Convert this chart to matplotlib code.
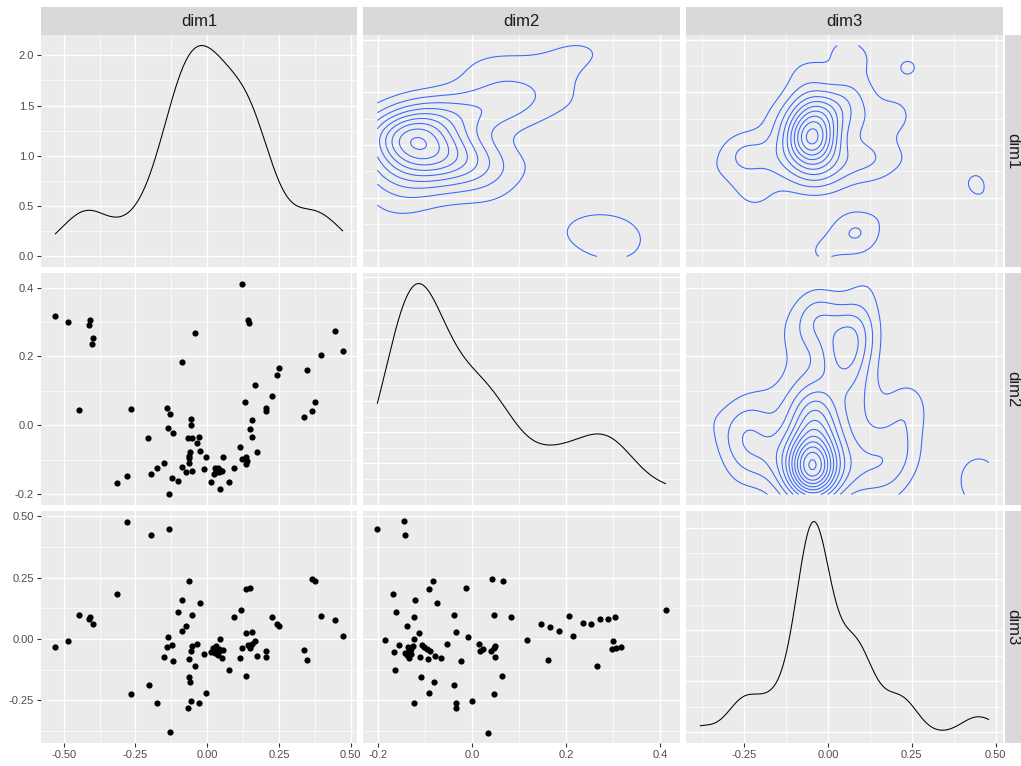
import numpy as np
import matplotlib
matplotlib.use("Agg")
import matplotlib.pyplot as plt
from matplotlib.ticker import FixedLocator, MultipleLocator, AutoLocator, NullFormatter

plt.rcParams["font.family"] = ["Liberation Sans", "DejaVu Sans"]

VARS = ["dim1", "dim2", "dim3"]

# scatter dim1 (x) vs dim2 (y), row 2 col 1
P21_DIM1 = [-0.529, -0.484, -0.447, -0.413, -0.407, -0.399, -0.402, -0.315, -0.087, -0.044,
            0.120, 0.141, 0.147, 0.243, 0.252, 0.227, 0.338, 0.348, 0.365, 0.374, 0.398, 0.447, 0.472,
            0.167, -0.264, -0.139, -0.128, 0.133, 0.204, 0.204, 0.156, 0.150, 0.156, 0.172, 0.113,
            0.134, 0.120, 0.140, 0.137, 0.094, 0.076, 0.046, 0.054, 0.013,
            0.027, 0.036, 0.044, 0.030, 0.024, 0.038, 0.051, 0.033, 0.040, 0.031,
            -0.005, -0.010, -0.024, -0.036, -0.028, -0.052, -0.067, -0.058, -0.056,
            -0.060, -0.065, -0.063, -0.064, -0.052, -0.075, -0.087, -0.101, -0.123, -0.134,
            -0.138, -0.120, -0.152, -0.174, -0.197, -0.205, -0.278]
P21_DIM2 = [0.317, 0.300, 0.045, 0.291, 0.305, 0.254, 0.236, -0.168, 0.185, 0.267,
            0.412, 0.305, 0.298, 0.146, 0.166, 0.085, 0.024, 0.161, 0.043, 0.069, 0.205, 0.274, 0.215,
            0.117, 0.047, 0.049, 0.033, 0.067, 0.049, 0.042, 0.015, -0.012, -0.033, -0.078, -0.064,
            -0.092, -0.099, -0.104, -0.113, -0.125, -0.164, -0.186, -0.092, -0.166,
            -0.125, -0.123, -0.130, -0.137, -0.143, -0.134, -0.132, -0.128, -0.136, -0.131,
            -0.092, -0.127, -0.075, -0.051, -0.033, -0.038, -0.036, 0.017, 0.000,
            -0.079, -0.088, -0.094, -0.109, -0.132, -0.137, -0.120, -0.161, -0.153, -0.201,
            -0.007, -0.023, -0.110, -0.125, -0.142, -0.038, -0.146]

# scatter dim1 (x) vs dim3 (y), row 3 col 1
P31_DIM1 = [-0.529, -0.484, -0.447, -0.413, -0.407, -0.399, -0.315, -0.278, -0.264, -0.204,
            -0.196, -0.174, -0.152, -0.138, -0.139, -0.134, -0.128, -0.123, -0.120, -0.101,
            -0.087, -0.087, -0.075, -0.065, -0.065, -0.065, -0.060, -0.058, -0.053, -0.052,
            -0.056, -0.067, -0.044, -0.036, -0.024, -0.027, -0.010, -0.003,
            0.022, 0.030, 0.035, 0.027, 0.015, 0.038, 0.044, 0.056, 0.052,
            0.033, 0.040, 0.031, 0.042, 0.035,
            0.076, 0.094, 0.113, 0.119, 0.123, 0.134, 0.134, 0.150,
            0.137, 0.156, 0.142, 0.148, 0.157, 0.167, 0.148,
            0.172, 0.204, 0.204, 0.227, 0.243, 0.252, 0.338, 0.348, 0.365, 0.374, 0.398, 0.447, 0.472]
P31_DIM3 = [-0.033, -0.010, 0.097, 0.083, 0.090, 0.063, 0.184, 0.479, -0.225, -0.186,
            0.423, -0.259, -0.072, 0.007, -0.033, 0.447, -0.381, -0.026, -0.089, 0.111,
            0.160, 0.031, 0.053, 0.236, -0.082, -0.154, -0.176, -0.048, 0.097, -0.030,
            -0.252, -0.282, -0.112, -0.019, 0.145, -0.262, -0.060, -0.222,
            -0.037, -0.030, -0.050, -0.055, -0.053, -0.064, 0.001, -0.044, -0.078,
            -0.045, -0.041, -0.058, -0.048, -0.052,
            -0.125, 0.090, -0.078, 0.120, -0.037, -0.150, 0.205, 0.207,
            0.025, 0.027, -0.026, -0.037, -0.020, -0.007, -0.030,
            -0.071, -0.050, -0.075, 0.090, 0.063, 0.052, -0.044, -0.087, 0.243, 0.236, 0.093, 0.079, 0.014]

# scatter dim2 (x) vs dim3 (y), row 3 col 2
P32_DIM2 = [-0.201, -0.145, -0.142, -0.185, -0.168, -0.166, -0.163, -0.161, -0.155, -0.137,
            -0.135, -0.142, -0.138, -0.131, -0.126, -0.133, -0.129, -0.134, -0.130, -0.136,
            -0.124, -0.124, -0.124, -0.120, -0.112, -0.111, -0.109, -0.106, -0.101, -0.096, -0.090,
            -0.093, -0.091, -0.091, -0.083, -0.080, -0.078, -0.074, -0.065, -0.052, -0.038, -0.038,
            -0.034, -0.034, -0.033, -0.023, -0.012, -0.009, 0.000, 0.015, 0.017, 0.024, 0.035,
            0.041, 0.046, 0.049, 0.043, 0.047, 0.050, 0.048, 0.065, 0.067, 0.084, 0.117,
            0.147, 0.161, 0.166, 0.185, 0.206, 0.216, 0.236, 0.253, 0.266, 0.273, 0.290,
            0.301, 0.299, 0.307, 0.318, 0.304, 0.413]
P32_DIM3 = [0.447, 0.480, 0.423, -0.003, 0.184, -0.053, -0.126, 0.111, -0.026, 0.053,
            -0.034, -0.057, -0.067, -0.051, -0.030, -0.078, -0.061, -0.045, -0.041, -0.058,
            -0.259, 0.090, 0.000, 0.161, 0.025, -0.072, -0.156, -0.023, -0.034, -0.041, -0.048,
            -0.082, -0.222, 0.203, 0.237, -0.176, -0.068, 0.145, -0.078, -0.019, 0.097, -0.187,
            -0.262, -0.282, 0.029, -0.089, 0.206, 0.008, -0.252, -0.019, -0.048, -0.042, -0.382,
            -0.048, -0.037, -0.030, 0.243, 0.097, -0.075, -0.225, -0.149, 0.237, 0.090, -0.005,
            0.061, -0.085, 0.050, 0.031, 0.093, 0.014, 0.064, 0.061, -0.112, 0.080, 0.083,
            -0.008, -0.040, -0.037, -0.033, 0.090, 0.120]

TICKS = {
    "density1": ([0.0, 0.5, 1.0, 1.5, 2.0], ["0.0", "0.5", "1.0", "1.5", "2.0"]),
    "dim1": ([-0.5, -0.25, 0.0, 0.25, 0.5], ["-0.50", "-0.25", "0.00", "0.25", "0.50"]),
    "dim2": ([-0.2, 0.0, 0.2, 0.4], ["-0.2", "0.0", "0.2", "0.4"]),
    "dim3": ([-0.25, 0.0, 0.25, 0.5], ["-0.25", "0.00", "0.25", "0.50"]),
}
MINOR = {"density1": 0.25, "dim1": 0.125, "dim2": 0.1, "dim3": 0.125}

W, H = 1021, 766
COLS = [(41, 357), (363, 680), (686, 1003)]
ROWS = [(35, 267), (273, 505), (511, 743)]
BG = "#EBEBEB"
STRIP = "#D9D9D9"
CONTOUR = "#3366FF"


def rect(x0, y0, x1, y1):
    return [x0 / W, 1 - y1 / H, (x1 - x0) / W, (y1 - y0) / H]


def spread(v):
    return min(np.std(v, ddof=1), (np.percentile(v, 75) - np.percentile(v, 25)) / 1.34)


def kde1d(v):
    # gaussian kernel, bw.nrd0, over the data range like geom_density
    v = np.asarray(v)
    bw = 0.9 * spread(v) * len(v) ** -0.2
    xs = np.linspace(v.min(), v.max(), 512)
    d = np.exp(-0.5 * ((xs[:, None] - v[None, :]) / bw) ** 2).sum(1)
    return xs, d / (len(v) * bw * np.sqrt(2 * np.pi))


def kde2d(x, y, n=100):
    # same as MASS::kde2d with bandwidth.nrd
    x, y = np.asarray(x), np.asarray(y)
    hx = 1.06 * spread(x) * len(x) ** -0.2
    hy = 1.06 * spread(y) * len(y) ** -0.2
    gx = np.linspace(x.min(), x.max(), n)
    gy = np.linspace(y.min(), y.max(), n)
    ax_ = np.exp(-0.5 * ((gx[:, None] - x[None, :]) / hx) ** 2) / np.sqrt(2 * np.pi)
    ay_ = np.exp(-0.5 * ((gy[:, None] - y[None, :]) / hy) ** 2) / np.sqrt(2 * np.pi)
    z = ax_ @ ay_.T / (len(x) * hx * hy)
    return gx, gy, z


def pretty(lo, hi, n=10):
    cell = (hi - lo) / n
    base = 10 ** np.floor(np.log10(cell))
    unit = base
    if 2 * base - cell < 1.5 * (cell - unit):
        unit = 2 * base
        if 5 * base - cell < 2.75 * (cell - unit):
            unit = 5 * base
            if 10 * base - cell < 1.5 * (cell - unit):
                unit = 10 * base
    ns = np.floor(lo / unit + 1e-7)
    nu = np.ceil(hi / unit - 1e-7)
    return np.arange(ns, nu + 1) * unit


def expand(v):
    lo, hi = np.min(v), np.max(v)
    pad = 0.05 * (hi - lo)
    return lo - pad, hi + pad


data = {
    "dim1": np.array(P21_DIM1),
    "dim2": np.array(P21_DIM2),
    "dim3": np.array(P31_DIM3),
}
pairs = {
    (1, 0): (np.array(P21_DIM1), np.array(P21_DIM2)),
    (2, 0): (np.array(P31_DIM1), np.array(P31_DIM3)),
    (2, 1): (np.array(P32_DIM2), np.array(P32_DIM3)),
}
lims = {v: expand(data[v]) for v in VARS}

fig = plt.figure(figsize=(W / 100, H / 100), dpi=100)
fig.patch.set_facecolor("white")

for r in range(3):
    for c in range(3):
        ax = fig.add_axes(rect(COLS[c][0], ROWS[r][0], COLS[c][1], ROWS[r][1]))
        ax.set_facecolor(BG)
        for s in ax.spines.values():
            s.set_visible(False)
        ax.set_axisbelow(True)
        xv, yv = VARS[c], VARS[r]
        ax.set_xlim(*lims[xv])
        ax.xaxis.set_major_locator(FixedLocator(TICKS[xv][0]))
        ax.xaxis.set_minor_locator(MultipleLocator(MINOR[xv]))

        if r == c:
            xs, d = kde1d(data[xv])
            ax.plot(xs, d, color="black", lw=0.75)
            top = d.max()
            ax.set_ylim(-0.05 * top, top * 1.05)
            if r == 0:
                ax.yaxis.set_major_locator(FixedLocator(TICKS["density1"][0]))
                ax.yaxis.set_minor_locator(MultipleLocator(MINOR["density1"]))
            else:
                ax.yaxis.set_major_locator(AutoLocator())
                step = ax.yaxis.get_majorticklocs()
                ax.yaxis.set_minor_locator(MultipleLocator((step[1] - step[0]) / 2))
        else:
            ax.set_ylim(*lims[yv])
            ax.yaxis.set_major_locator(FixedLocator(TICKS[yv][0]))
            ax.yaxis.set_minor_locator(MultipleLocator(MINOR[yv]))
            if r > c:
                px, py = pairs[(r, c)]
                ax.scatter(px, py, s=20, color="black", linewidths=0, zorder=3)
            else:
                py, px = pairs[(c, r)]
                gx, gy, z = kde2d(px, py)
                lev = pretty(z.min(), z.max())
                lev = lev[(lev > z.min()) & (lev < z.max())]
                ax.contour(gx, gy, z.T, levels=lev, colors=CONTOUR, linewidths=0.75)

        ax.grid(which="major", color="white", lw=1.0)
        ax.grid(which="minor", color="white", lw=0.5)
        ax.tick_params(which="minor", length=0)
        ax.tick_params(which="major", length=3, width=0.8, color="#333333",
                       labelsize=8, labelcolor="#4D4D4D", pad=2)

        if c == 0:
            if r == 0:
                ax.set_yticklabels(TICKS["density1"][1])
            else:
                ax.set_yticklabels(TICKS[yv][1])
        else:
            ax.tick_params(axis="y", which="major", length=0)
            ax.yaxis.set_major_formatter(NullFormatter())
        if r == 2:
            ax.set_xticklabels(TICKS[xv][1])
        else:
            ax.tick_params(axis="x", which="major", length=0)
            ax.xaxis.set_major_formatter(NullFormatter())

# strips on top
for c in range(3):
    sa = fig.add_axes(rect(COLS[c][0], 7, COLS[c][1], 35))
    sa.set_facecolor(STRIP)
    sa.set_xticks([])
    sa.set_yticks([])
    for s in sa.spines.values():
        s.set_visible(False)
    sa.text(0.5, 0.5, VARS[c], ha="center", va="center", fontsize=12, color="#1A1A1A",
            transform=sa.transAxes)

# strips on the right, cut by the figure edge as in the source
for r in range(3):
    sa = fig.add_axes(rect(1005, ROWS[r][0], 1021, ROWS[r][1]))
    sa.set_facecolor(STRIP)
    sa.set_xticks([])
    sa.set_yticks([])
    for s in sa.spines.values():
        s.set_visible(False)
    sa.text(0.5, 0.5, VARS[r], ha="center", va="center", fontsize=12, color="#1A1A1A",
            rotation=-90, transform=sa.transAxes, clip_on=False)

fig.savefig("out.png", dpi=100)
